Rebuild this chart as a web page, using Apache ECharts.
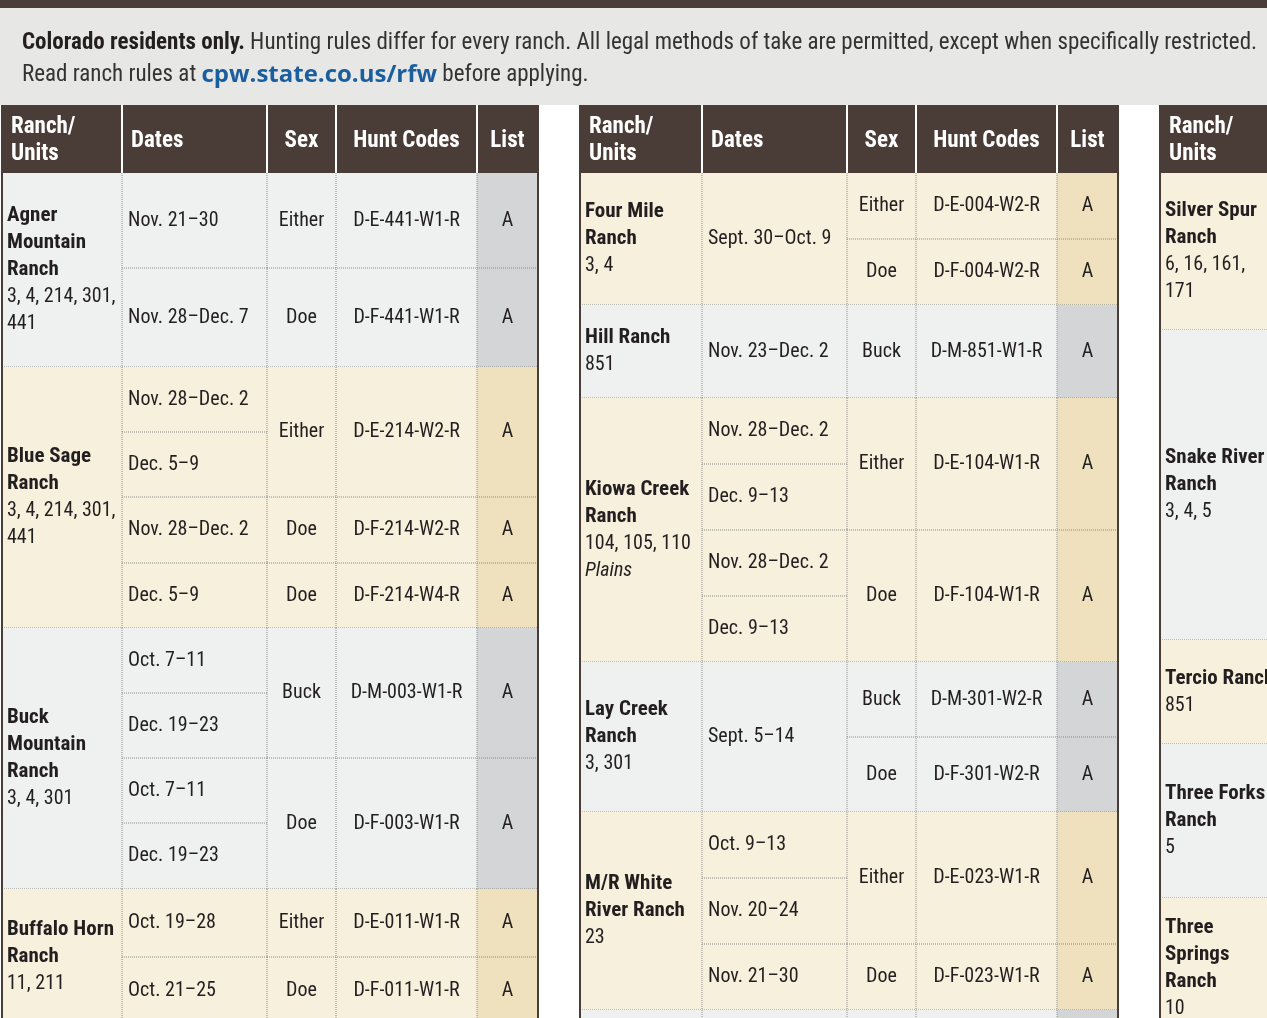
<!DOCTYPE html>
<html><head><meta charset="utf-8">
<script src="https://cdn.jsdelivr.net/npm/echarts@6/dist/echarts.min.js"></script>
<style>html,body{margin:0;padding:0;background:#fff}#c{width:1267px;height:1018px}</style>
</head><body><div id="c"></div>
<script>
// ---- data ----
const headers = ['Ranch/\nUnits', 'Dates', 'Sex', 'Hunt Codes', 'List'];
const table1 = [
  {name:['Agner','Mountain','Ranch'], units:['3, 4, 214, 301,','441'], dates:[['Nov. 21–30',1],['Nov. 28–Dec. 7',1]], sex:[['Either',1],['Doe',1]], codes:['D-E-441-W1-R','D-F-441-W1-R'], list:['A','A']},
  {name:['Blue Sage','Ranch'], units:['3, 4, 214, 301,','441'], dates:[['Nov. 28–Dec. 2',1],['Dec. 5–9',1],['Nov. 28–Dec. 2',1],['Dec. 5–9',1]], sex:[['Either',2],['Doe',1],['Doe',1]], codes:['D-E-214-W2-R','D-F-214-W2-R','D-F-214-W4-R'], list:['A','A','A']},
  {name:['Buck','Mountain','Ranch'], units:['3, 4, 301'], dates:[['Oct. 7–11',1],['Dec. 19–23',1],['Oct. 7–11',1],['Dec. 19–23',1]], sex:[['Buck',2],['Doe',2]], codes:['D-M-003-W1-R','D-F-003-W1-R'], list:['A','A']},
  {name:['Buffalo Horn','Ranch'], units:['11, 211'], dates:[['Oct. 19–28',1],['Oct. 21–25',1]], sex:[['Either',1],['Doe',1]], codes:['D-E-011-W1-R','D-F-011-W1-R'], list:['A','A']}
];
const table2 = [
  {name:['Four Mile','Ranch'], units:['3, 4'], dates:[['Sept. 30–Oct. 9',2]], sex:[['Either',1],['Doe',1]], codes:['D-E-004-W2-R','D-F-004-W2-R'], list:['A','A']},
  {name:['Hill Ranch'], units:['851'], dates:[['Nov. 23–Dec. 2',1]], sex:[['Buck',1]], codes:['D-M-851-W1-R'], list:['A']},
  {name:['Kiowa Creek','Ranch'], units:['104, 105, 110','{i|Plains}'], dates:[['Nov. 28–Dec. 2',1],['Dec. 9–13',1],['Nov. 28–Dec. 2',1],['Dec. 9–13',1]], sex:[['Either',2],['Doe',2]], codes:['D-E-104-W1-R','D-F-104-W1-R'], list:['A','A']},
  {name:['Lay Creek','Ranch'], units:['3, 301'], dates:[['Sept. 5–14',2]], sex:[['Buck',1],['Doe',1]], codes:['D-M-301-W2-R','D-F-301-W2-R'], list:['A','A']},
  {name:['M/R White','River Ranch'], units:['23'], dates:[['Oct. 9–13',1],['Nov. 20–24',1],['Nov. 21–30',1]], sex:[['Either',2],['Doe',1]], codes:['D-E-023-W1-R','D-F-023-W1-R'], list:['A','A']},
  {name:[], units:[], dates:[['',1]], sex:[['',1]], codes:[''], list:['']}
];
const table3 = [
  {name:['Silver Spur','Ranch'], units:['6, 16, 161,','171'], dates:[['',1]], sex:[['',1]], codes:[''], list:['']},
  {name:['Snake River','Ranch'], units:['3, 4, 5'], dates:[['',1]], sex:[['',1]], codes:[''], list:['']},
  {name:['Tercio Ranch'], units:['851'], dates:[['',1]], sex:[['',1]], codes:[''], list:['']},
  {name:['Three Forks','Ranch'], units:['5'], dates:[['',1]], sex:[['',1]], codes:[''], list:['']},
  {name:['Three','Springs','Ranch'], units:['10'], dates:[['',1]], sex:[['',1]], codes:[''], list:['']}
];
// ---- layout ----
const heights1 = [[95,99],[65,65,66,65],[65,65,65,66],[68,68]];
const heights2 = [[66,66],[93],[66,66,66,66],[75,75],[66,66,66],[60]];
const heights3 = [[157],[310],[104],[154],[140]];
const cols1 = [2,122,267,336,477,538];
const cols2 = [580,702,847,916,1057,1118];
const cols3 = [1160,1282,1427,1496,1637,1698];
const F = '"Liberation Sans Narrow","Roboto Condensed","Liberation Sans",sans-serif';
const BROWN = '#4a3c36';
const G = [];
function txt(x,y,text,opt){G.push({type:'text',x,y,silent:true,style:Object.assign({text,font:'20px '+F,fill:'#231f20',align:'center',verticalAlign:'middle'},opt||{})});}
function rect(x,y,w,h,fill){G.push({type:'rect',shape:{x,y,width:w,height:h},silent:true,style:{fill}});}
function line(x1,y1,x2,y2,c,dash,w){G.push({type:'line',shape:{x1,y1,x2,y2},silent:true,style:{stroke:c,lineWidth:w||1,lineDash:dash||null}});}

// top band + banner
rect(0,0,1267,8,BROWN);
rect(0,8,1267,97,'#e7e7e6');
G.push({type:'text',x:22,y:43,silent:true,style:{
  text:'{b|Colorado residents only.} Hunting rules differ for every ranch. All legal methods of take are permitted, except when specifically restricted.',
  font:'23px '+F,fill:'#333',verticalAlign:'middle',rich:{b:{font:'bold 23px '+F,fill:'#231f20'}}}});
G.push({type:'text',x:22,y:75,silent:true,style:{
  text:'Read ranch rules at {l|cpw.state.co.us/rfw} before applying.',
  font:'23px '+F,fill:'#333',verticalAlign:'middle',rich:{l:{font:'bold 24px "Open Sans",sans-serif',fill:'#1b5e9e'}}}});

function drawTable(data,heights,cols){
  const top=105, hh=68;
  rect(cols[0],top,cols[5]-cols[0],hh,BROWN);
  headers.forEach((h,i)=>{
    const x0=cols[i],x1=cols[i+1];
    if(i<2) txt(x0+9,top+hh/2+2,h,{font:'bold 23px '+F,fill:'#fff',align:'left',lineHeight:27});
    else txt((x0+x1)/2,top+hh/2+2,h,{font:'bold 23px '+F,fill:'#fff'});
    if(i>0) line(x0,top,x0,top+hh,'#fff',null,2);
  });
  let y=top+hh;
  data.forEach((r,ri)=>{
    const hs=heights[ri]; const total=hs.reduce((a,b)=>a+b,0);
    const beige = (ri%2===(data===table1?1:0));
    const bg = beige?'#f7f0dc':'#eff1f1', lbg = beige?'#efe1bd':'#d4d5d6';
    rect(cols[0],y,cols[4]-cols[0],total,bg);
    rect(cols[4],y,cols[5]-cols[4],total,lbg);
    // ranch text
    const lines=r.name.map(n=>'{n|'+n+'}').concat(r.units);
    txt(cols[0]+5,y+total/2,lines.join('\n'),{align:'left',font:'20px '+F,lineHeight:27,
      rich:{n:{font:'bold 21px '+F,fill:'#231f20',lineHeight:27},i:{font:'italic 20px '+F,lineHeight:27}}});
    // dates
    let k=0;
    r.dates.forEach(d=>{
      const y0=y+hs.slice(0,k).reduce((a,b)=>a+b,0), h=hs.slice(k,k+d[1]).reduce((a,b)=>a+b,0);
      txt(cols[1]+6,y0+h/2,d[0],{align:'left'});
      if(k>0) line(cols[1],y0,cols[2],y0,'#8a8a8a',[1,1]);
      k+=d[1];
    });
    k=0;
    r.sex.forEach((s,si)=>{
      const y0=y+hs.slice(0,k).reduce((a,b)=>a+b,0), h=hs.slice(k,k+s[1]).reduce((a,b)=>a+b,0);
      txt((cols[2]+cols[3])/2,y0+h/2,s[0]);
      txt((cols[3]+cols[4])/2,y0+h/2,r.codes[si]);
      txt((cols[4]+cols[5])/2,y0+h/2,r.list[si]);
      if(k>0) line(cols[2],y0,cols[5],y0,'#8a8a8a',[1,1]);
      k+=s[1];
    });
    for(let c=1;c<5;c++) line(cols[c],y,cols[c],y+total,'#8a8a8a',[1,1]);
    y+=total;
    line(cols[0],y,cols[5],y,'#8a8a8a',[1,1]);
  });
  line(cols[0],top,cols[0],1018,BROWN,null,2);
  line(cols[5],top,cols[5],1018,BROWN,null,2);
}
drawTable(table1,heights1,cols1);
drawTable(table2,heights2,cols2);
drawTable(table3,heights3,cols3);

const chart=echarts.init(document.getElementById('c'));
chart.setOption({animation:false,graphic:{elements:G}});
</script></body></html>
